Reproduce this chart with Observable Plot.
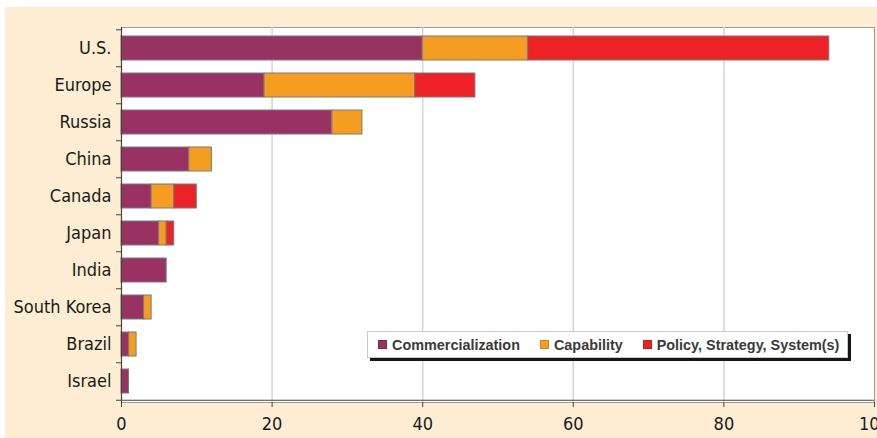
<!DOCTYPE html>
<html>
<head>
<meta charset="utf-8">
<script src="https://cdn.jsdelivr.net/npm/d3@7"></script>
<script src="https://cdn.jsdelivr.net/npm/@observablehq/plot@0.6"></script>
<style>
  html, body { margin: 0; padding: 0; background: #ffffff; }
  #wrap { position: relative; width: 877px; height: 438px; background: #ffffff; overflow: hidden; }
  #chart { position: absolute; left: 5px; top: 7px; }
  #legend {
    position: absolute; left: 367px; top: 331px; width: 481px; height: 27px;
    background: #ffffff; border: 1px solid #c8c8c8; box-shadow: 3px 3px 0 #151515;
    font-family: "Liberation Sans", Arial, sans-serif; font-size: 14.4px; font-weight: bold; color: #3a3a3a;
    display: flex; align-items: center; box-sizing: border-box; padding-left: 10px;
  }
  #legend .item { display: flex; align-items: center; margin-right: 20px; white-space: nowrap; }
  #legend .sw { width: 9px; height: 9px; margin-right: 5px; box-sizing: border-box; border: 1px solid rgba(0,0,0,0.15); }
</style>
</head>
<body>
<div id="wrap">
  <div id="chart"></div>
  <div id="legend"></div>
</div>
<script>
const categories = ["U.S.", "Europe", "Russia", "China", "Canada", "Japan", "India", "South Korea", "Brazil", "Israel"];
const series = ["Commercialization", "Capability", "Policy, Strategy, System(s)"];
const commercialization = [40, 19, 28, 9, 4, 5, 6, 3, 1, 1];
const capability = [14, 20, 4, 3, 3, 1, 0, 1, 1, 0];
const policy = [40, 8, 0, 0, 3, 1, 0, 0, 0, 0];
const xTicks = [0, 20, 40, 60, 80, 100];
const colors = ["#993263", "#f59d20", "#ec2227"];

const valuesBySeries = [commercialization, capability, policy];
const rows = [];
categories.forEach((c, i) => {
  series.forEach((s, j) => {
    const v = valuesBySeries[j][i];
    if (v > 0) rows.push({country: c, series: s, value: v});
  });
});

const W = 872, H = 431, mT = 20, mB = 36;
const step = (H - mT - mB) / categories.length;

const font = '"DejaVu Sans Condensed", "Liberation Sans Narrow", "Roboto", sans-serif';

const chart = Plot.plot({
  width: W, height: H,
  marginLeft: 116, marginRight: 3, marginTop: mT, marginBottom: mB,
  style: {background: "#fdedd2", fontFamily: font, fontSize: "18px", color: "#1a1a1a", overflow: "visible"},
  x: {domain: [0, 100], label: null},
  y: {domain: categories, paddingInner: 0.36, paddingOuter: 0.18, label: null},
  color: {domain: series, range: colors},
  marks: [
    Plot.frame({fill: "#ffffff", stroke: "#9a9a9a"}),
    Plot.gridX(xTicks.slice(1, -1), {stroke: "#d4d4d4", strokeOpacity: 1, strokeWidth: 1.5}),
    Plot.barX(rows, Plot.stackX({y: "country", x: "value", fill: "series", stroke: "#7a7a7a", strokeWidth: 1})),
    Plot.ruleX([0], {stroke: "#444", strokeWidth: 1.2}),
    Plot.ruleY([categories[categories.length - 1]], {x1: 0, x2: 100, dy: step / 2, stroke: "#444", strokeWidth: 1.2}),
    Plot.axisX({ticks: xTicks, tickSize: 5, tickPadding: 10, stroke: "#444", fontSize: 18}),
    Plot.axisY({tickSize: 0, tickPadding: 10, fontSize: 18}),
    Plot.axisY({tickSize: 5, text: null, dy: -step / 2, stroke: "#444"}),
    Plot.axisY({ticks: [categories[categories.length - 1]], tickSize: 5, text: null, dy: step / 2, stroke: "#444"})
  ]
});
document.getElementById("chart").appendChild(chart);

const legend = document.getElementById("legend");
series.forEach((s, i) => {
  const item = document.createElement("div");
  item.className = "item";
  const sw = document.createElement("div");
  sw.className = "sw";
  sw.style.background = colors[i];
  const t = document.createElement("span");
  t.textContent = s;
  item.appendChild(sw);
  item.appendChild(t);
  legend.appendChild(item);
});
</script>
</body>
</html>
